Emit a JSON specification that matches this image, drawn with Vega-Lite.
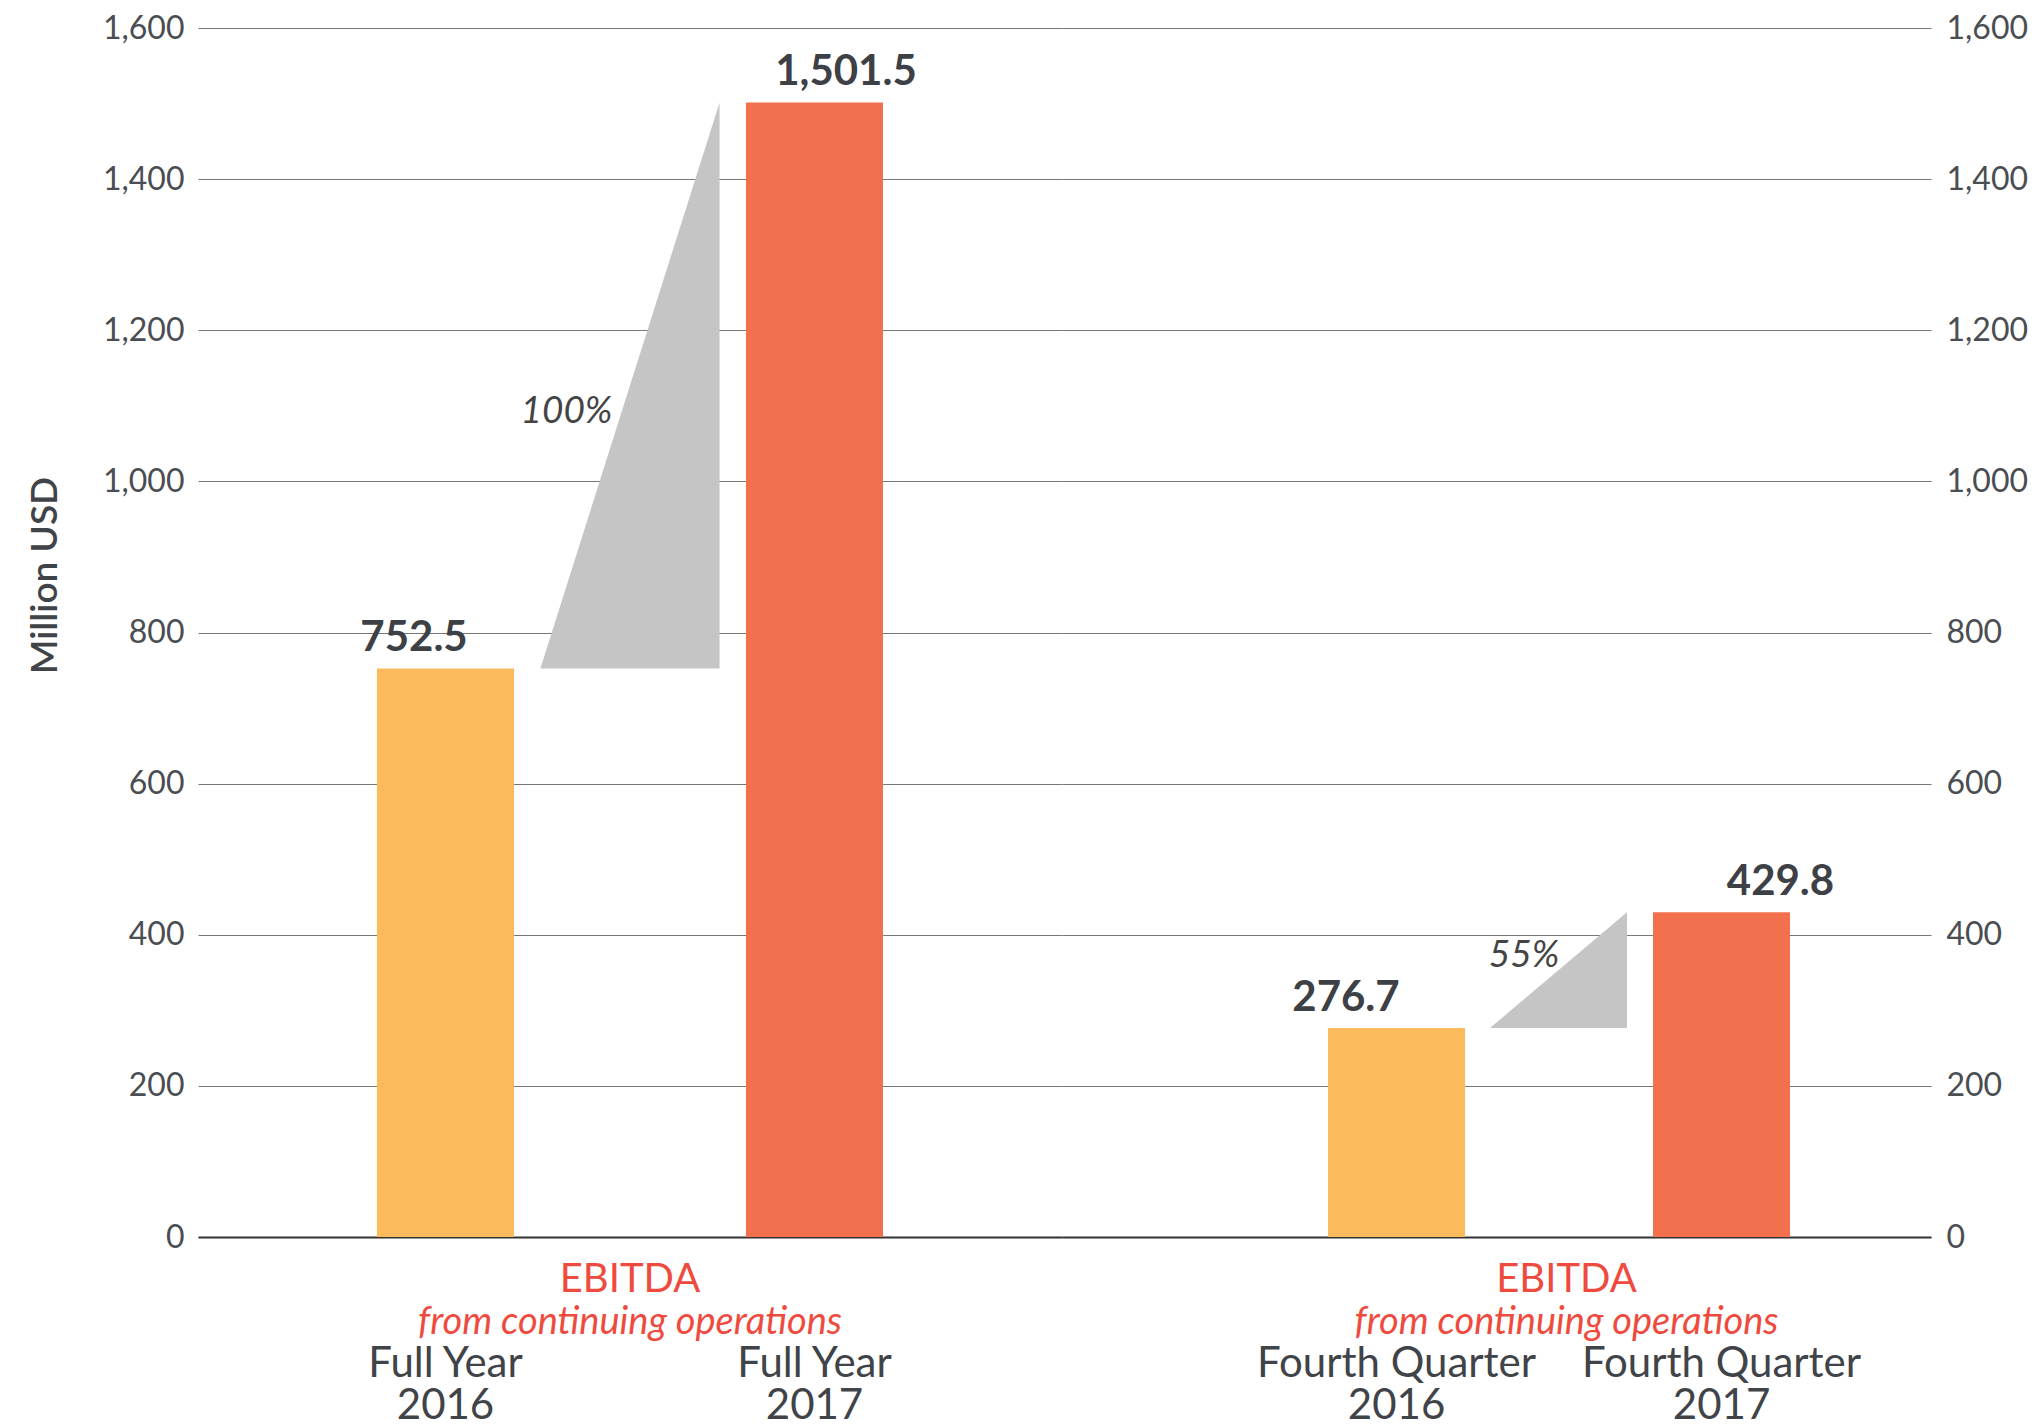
{
  "$schema": "https://vega.github.io/schema/vega-lite/v6.json",
  "padding": {"left": 26, "top": 12, "right": 0, "bottom": 0},
  "background": "white",
  "spacing": 0,
  "config": {"view": {"stroke": null}, "font": "Lato"},
  "datasets": {
    "bars": [
      {"group": "FY", "period": "Full Year|2016", "year": "2016", "value": 752.5, "label": "752.5"},
      {"group": "FY", "period": "Full Year|2017", "year": "2017", "value": 1501.5, "label": "1,501.5"},
      {"group": "Q4", "period": "Fourth Quarter|2016", "year": "2016", "value": 276.7, "label": "276.7"},
      {"group": "Q4", "period": "Fourth Quarter|2017", "year": "2017", "value": 429.8, "label": "429.8"}
    ],
    "growth": [
      {"group": "FY", "period": "Full Year|2016", "value": 752.5, "base": 752.5, "pct": "100%"},
      {"group": "FY", "period": "Full Year|2017", "value": 1501.5, "base": 752.5, "pct": "100%"},
      {"group": "Q4", "period": "Fourth Quarter|2016", "value": 276.7, "base": 276.7, "pct": "55%"},
      {"group": "Q4", "period": "Fourth Quarter|2017", "value": 429.8, "base": 276.7, "pct": "55%"}
    ],
    "groups": [
      {"group": "FY", "title": "EBITDA", "sub": "from continuing operations"},
      {"group": "Q4", "title": "EBITDA", "sub": "from continuing operations"}
    ]
  },
  "hconcat": [
    {
      "width": 864,
      "height": 1209,
      "layer": [
        {
          "data": {"name": "bars"},
          "transform": [{"filter": "datum.group === 'FY'"}],
          "mark": {"type": "bar"},
          "encoding": {
            "x": {"field": "period", "type": "nominal",
              "scale": {"domain": ["Full Year|2016", "Full Year|2017"], "paddingInner": 0.6287, "paddingOuter": 0.4851},
              "axis": {"title": null, "labelExpr": "split(datum.label, '|')", "labelAngle": 0, "labelLimit": 500, "labelFontSize": 42, "labelColor": "#404347", "labelLineHeight": 42, "labelBaseline": "top", "labelPadding": 106, "ticks": false, "domainColor": "#333333", "domainWidth": 2}},
            "y": {"field": "value", "type": "quantitative",
              "scale": {"domain": [0, 1600], "nice": false},
              "axis": {"orient": "left", "values": [0, 200, 400, 600, 800, 1000, 1200, 1400, 1600], "format": ",d", "grid": true, "gridColor": "#777777", "gridWidth": 1.2, "ticks": false, "domain": false, "labelPadding": 14, "labelFontSize": 32, "labelColor": "#4a4d52", "title": "Million USD", "titleFontSize": 37, "titleFontWeight": 600, "titleColor": "#404347", "titlePadding": 38, "titleY": 547}},
            "color": {"field": "year", "type": "nominal", "scale": {"domain": ["2016", "2017"], "range": ["#FBBA5C", "#F2704D"]}, "legend": null}
          }
        },
        {
          "data": {"name": "bars"},
          "transform": [{"filter": "datum.group === 'FY'"}],
          "mark": {"type": "text", "fontSize": 42, "fontWeight": "bold", "color": "#3d4045", "baseline": "middle", "dy": -30},
          "encoding": {
            "x": {"field": "period", "type": "nominal", "bandPosition": 0.5,
              "scale": {"domain": ["Full Year|2016", "Full Year|2017"], "paddingInner": 0.6287, "paddingOuter": 0.4851}, "axis": null},
            "y": {"field": "value", "type": "quantitative"},
            "text": {"field": "label"}
          }
        },
        {
          "data": {"name": "groups"},
          "transform": [{"filter": "datum.group === 'FY'"}],
          "mark": {"type": "text", "fontSize": 40, "color": "#EE4B3E", "baseline": "middle", "dy": 43},
          "encoding": {
            "y": {"datum": 0, "type": "quantitative"},
            "text": {"field": "title"}
          }
        },
        {
          "data": {"name": "groups"},
          "transform": [{"filter": "datum.group === 'FY'"}],
          "mark": {"type": "text", "fontSize": 38, "fontStyle": "italic", "color": "#EE4B3E", "baseline": "middle", "dy": 86},
          "encoding": {
            "y": {"datum": 0, "type": "quantitative"},
            "text": {"field": "sub"}
          }
        },
        {
          "data": {"name": "growth"},
          "transform": [{"filter": "datum.group === 'FY'"}],
          "layer": [
            {
              "mark": {"type": "area", "color": "#C6C5C6", "interpolate": "linear"},
              "encoding": {
                "x": {"field": "period", "type": "nominal", "scale": {"type": "point", "domain": ["_a", "Full Year|2016", "Full Year|2017", "_b"], "padding": 0.911}, "axis": null},
                "y": {"field": "value", "type": "quantitative"},
                "y2": {"field": "base"}
              }
            },
            {
              "mark": {"type": "text", "fontSize": 37, "fontStyle": "italic", "color": "#444444", "baseline": "middle", "dx": 26, "dy": 27},
              "encoding": {
                "x": {"datum": "Full Year|2016", "type": "nominal", "scale": {"type": "point", "domain": ["_a", "Full Year|2016", "Full Year|2017", "_b"], "padding": 0.911}, "axis": null},
                "y": {"field": "value", "type": "quantitative", "aggregate": "mean"},
                "text": {"field": "pct"}
              }
            }
          ]
        }
      ],
      "resolve": {"scale": {"x": "independent"}, "axis": {"x": "independent"}}
    },
    {
      "width": 869,
      "height": 1209,
      "layer": [
        {
          "data": {"name": "bars"},
          "transform": [{"filter": "datum.group === 'Q4'"}],
          "mark": {"type": "bar"},
          "encoding": {
            "x": {"field": "period", "type": "nominal",
              "scale": {"domain": ["Fourth Quarter|2016", "Fourth Quarter|2017"], "paddingInner": 0.5785, "paddingOuter": 0.6262, "align": 0.6536},
              "axis": {"title": null, "labelExpr": "split(datum.label, '|')", "labelAngle": 0, "labelLimit": 500, "labelFontSize": 42, "labelColor": "#404347", "labelLineHeight": 42, "labelBaseline": "top", "labelPadding": 106, "ticks": false, "domainColor": "#333333", "domainWidth": 2}},
            "y": {"field": "value", "type": "quantitative",
              "scale": {"domain": [0, 1600], "nice": false},
              "axis": {"orient": "right", "values": [0, 200, 400, 600, 800, 1000, 1200, 1400, 1600], "format": ",d", "grid": true, "gridColor": "#777777", "gridWidth": 1.2, "ticks": false, "domain": false, "labelPadding": 15, "labelFontSize": 32, "labelColor": "#4a4d52", "title": null}},
            "color": {"field": "year", "type": "nominal", "scale": {"domain": ["2016", "2017"], "range": ["#FBBA5C", "#F2704D"]}, "legend": null}
          }
        },
        {
          "data": {"name": "bars"},
          "transform": [{"filter": "datum.group === 'Q4'"}],
          "mark": {"type": "text", "fontSize": 42, "fontWeight": "bold", "color": "#3d4045", "baseline": "middle", "dy": -30},
          "encoding": {
            "x": {"field": "period", "type": "nominal", "bandPosition": 0.5,
              "scale": {"domain": ["Fourth Quarter|2016", "Fourth Quarter|2017"], "paddingInner": 0.5785, "paddingOuter": 0.6262, "align": 0.6536}, "axis": null},
            "y": {"field": "value", "type": "quantitative"},
            "text": {"field": "label"}
          }
        },
        {
          "data": {"name": "groups"},
          "transform": [{"filter": "datum.group === 'Q4'"}],
          "mark": {"type": "text", "fontSize": 40, "color": "#EE4B3E", "baseline": "middle", "dx": 70, "dy": 43},
          "encoding": {
            "y": {"datum": 0, "type": "quantitative"},
            "text": {"field": "title"}
          }
        },
        {
          "data": {"name": "groups"},
          "transform": [{"filter": "datum.group === 'Q4'"}],
          "mark": {"type": "text", "fontSize": 38, "fontStyle": "italic", "color": "#EE4B3E", "baseline": "middle", "dx": 70, "dy": 86},
          "encoding": {
            "y": {"datum": 0, "type": "quantitative"},
            "text": {"field": "sub"}
          }
        },
        {
          "data": {"name": "growth"},
          "transform": [{"filter": "datum.group === 'Q4'"}],
          "layer": [
            {
              "mark": {"type": "area", "color": "#C6C5C6", "interpolate": "linear"},
              "encoding": {
                "x": {"field": "period", "type": "nominal", "scale": {"type": "point", "domain": ["_a", "_b", "Fourth Quarter|2016", "Fourth Quarter|2017", "_c", "_d"], "padding": 0.6715, "align": 0.837}, "axis": null},
                "y": {"field": "value", "type": "quantitative"},
                "y2": {"field": "base"}
              }
            },
            {
              "mark": {"type": "text", "fontSize": 37, "fontStyle": "italic", "color": "#444444", "baseline": "middle", "dx": 34, "dy": -14},
              "encoding": {
                "x": {"datum": "Fourth Quarter|2016", "type": "nominal", "scale": {"type": "point", "domain": ["_a", "_b", "Fourth Quarter|2016", "Fourth Quarter|2017", "_c", "_d"], "padding": 0.6715, "align": 0.837}, "axis": null},
                "y": {"field": "value", "type": "quantitative", "aggregate": "mean"},
                "text": {"field": "pct"}
              }
            }
          ]
        }
      ],
      "resolve": {"scale": {"x": "independent"}, "axis": {"x": "independent"}}
    }
  ]
}
